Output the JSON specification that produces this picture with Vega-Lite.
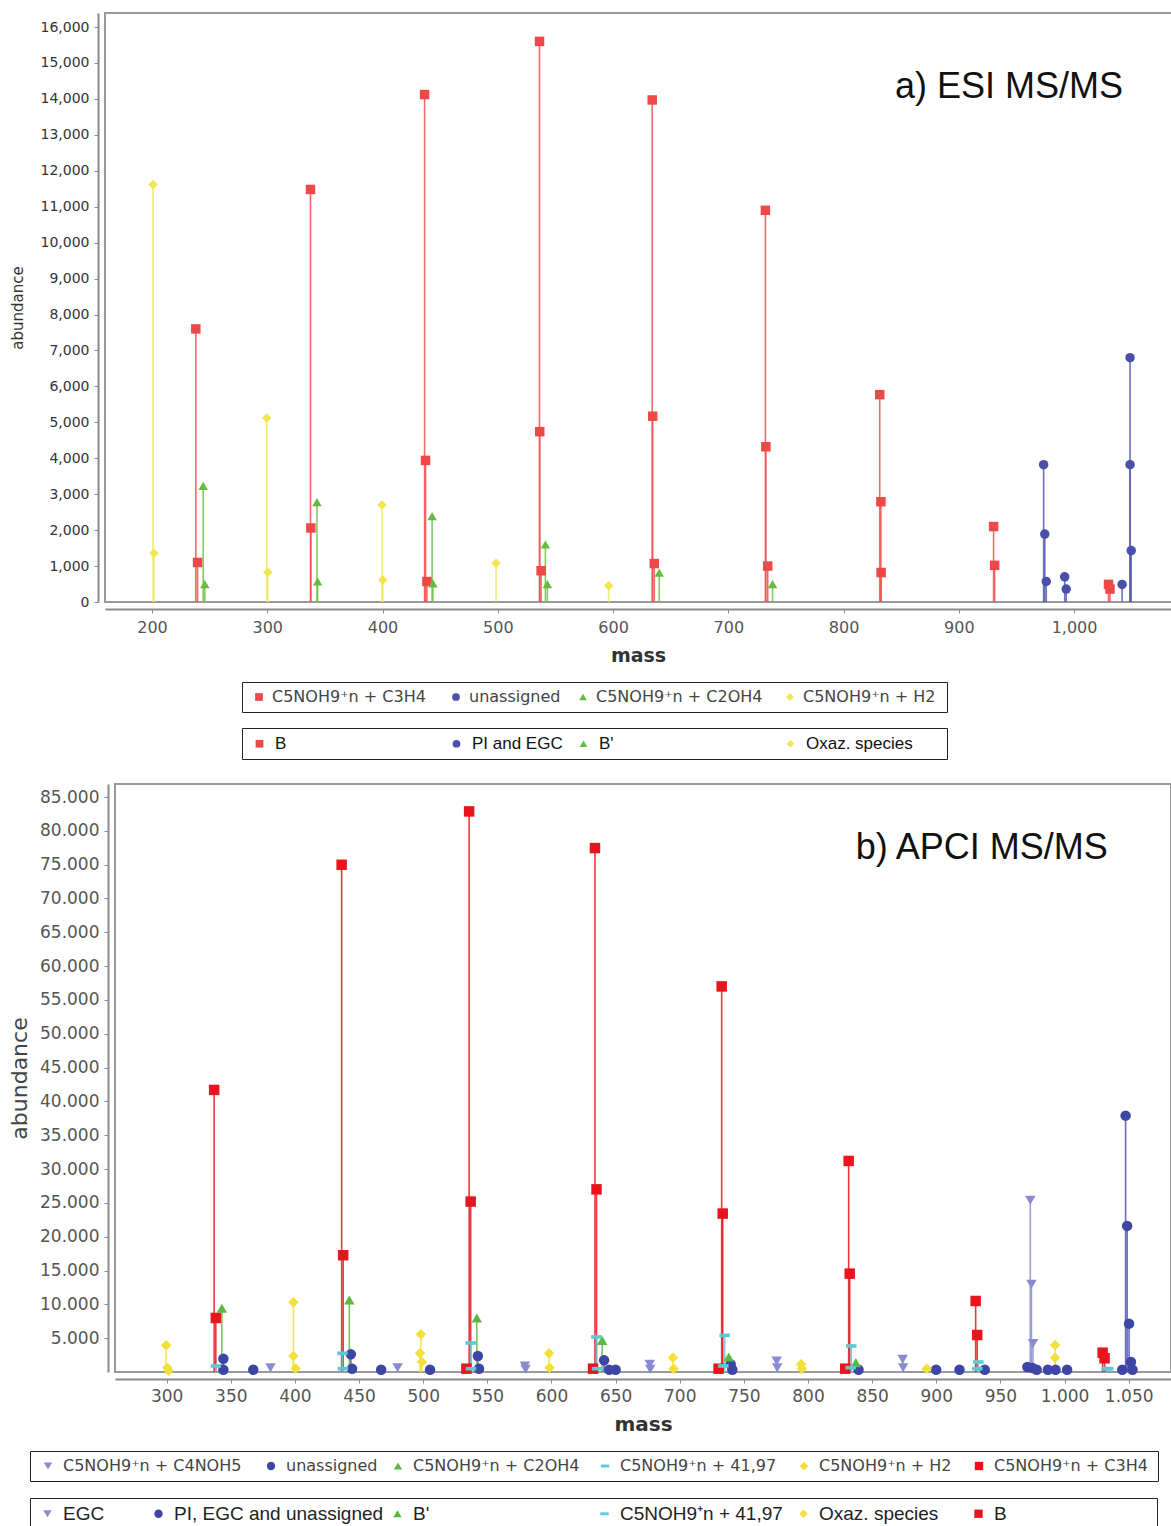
{
  "$schema": "https://vega.github.io/schema/vega-lite/v6.json",
  "background": "white",
  "padding": {"left": 7, "top": 12, "right": 0, "bottom": 0},
  "config": {
    "view": {"stroke": "#9a9a9a", "strokeWidth": 2},
    "font": "Liberation Sans"
  },
  "datasets": {
    "top": [
      {"mass": 238.0, "abundance": 7600, "type": "C5NOH9⁺n + C3H4", "group": "B"},
      {"mass": 239.5, "abundance": 1100, "type": "C5NOH9⁺n + C3H4", "group": "B"},
      {"mass": 337.5, "abundance": 11480, "type": "C5NOH9⁺n + C3H4", "group": "B"},
      {"mass": 337.8, "abundance": 2060, "type": "C5NOH9⁺n + C3H4", "group": "B"},
      {"mass": 436.5, "abundance": 14120, "type": "C5NOH9⁺n + C3H4", "group": "B"},
      {"mass": 437.3, "abundance": 3940, "type": "C5NOH9⁺n + C3H4", "group": "B"},
      {"mass": 438.5, "abundance": 570, "type": "C5NOH9⁺n + C3H4", "group": "B"},
      {"mass": 536.2, "abundance": 15600, "type": "C5NOH9⁺n + C3H4", "group": "B"},
      {"mass": 536.4, "abundance": 4740, "type": "C5NOH9⁺n + C3H4", "group": "B"},
      {"mass": 537.6, "abundance": 870, "type": "C5NOH9⁺n + C3H4", "group": "B"},
      {"mass": 634.0, "abundance": 13970, "type": "C5NOH9⁺n + C3H4", "group": "B"},
      {"mass": 634.4, "abundance": 5170, "type": "C5NOH9⁺n + C3H4", "group": "B"},
      {"mass": 635.8, "abundance": 1070, "type": "C5NOH9⁺n + C3H4", "group": "B"},
      {"mass": 732.2, "abundance": 10900, "type": "C5NOH9⁺n + C3H4", "group": "B"},
      {"mass": 732.6, "abundance": 4320, "type": "C5NOH9⁺n + C3H4", "group": "B"},
      {"mass": 734.2, "abundance": 1000, "type": "C5NOH9⁺n + C3H4", "group": "B"},
      {"mass": 831.4, "abundance": 5770, "type": "C5NOH9⁺n + C3H4", "group": "B"},
      {"mass": 832.4, "abundance": 2790, "type": "C5NOH9⁺n + C3H4", "group": "B"},
      {"mass": 832.6, "abundance": 820, "type": "C5NOH9⁺n + C3H4", "group": "B"},
      {"mass": 930.2, "abundance": 2100, "type": "C5NOH9⁺n + C3H4", "group": "B"},
      {"mass": 931.1, "abundance": 1020, "type": "C5NOH9⁺n + C3H4", "group": "B"},
      {"mass": 1029.9, "abundance": 490, "type": "C5NOH9⁺n + C3H4", "group": "B"},
      {"mass": 1031.2, "abundance": 360, "type": "C5NOH9⁺n + C3H4", "group": "B"},
      {"mass": 973.6, "abundance": 3820, "type": "unassigned", "group": "PI and EGC"},
      {"mass": 974.6, "abundance": 1890, "type": "unassigned", "group": "PI and EGC"},
      {"mass": 975.9, "abundance": 570, "type": "unassigned", "group": "PI and EGC"},
      {"mass": 991.9, "abundance": 700, "type": "unassigned", "group": "PI and EGC"},
      {"mass": 993.2, "abundance": 360, "type": "unassigned", "group": "PI and EGC"},
      {"mass": 1041.7, "abundance": 490, "type": "unassigned", "group": "PI and EGC"},
      {"mass": 1048.6, "abundance": 6800, "type": "unassigned", "group": "PI and EGC"},
      {"mass": 1048.6, "abundance": 3820, "type": "unassigned", "group": "PI and EGC"},
      {"mass": 1049.6, "abundance": 1430, "type": "unassigned", "group": "PI and EGC"},
      {"mass": 244.4, "abundance": 3230, "type": "C5NOH9⁺n + C2OH4", "group": "B'"},
      {"mass": 245.8, "abundance": 500, "type": "C5NOH9⁺n + C2OH4", "group": "B'"},
      {"mass": 343.1, "abundance": 2780, "type": "C5NOH9⁺n + C2OH4", "group": "B'"},
      {"mass": 343.7, "abundance": 570, "type": "C5NOH9⁺n + C2OH4", "group": "B'"},
      {"mass": 443.0, "abundance": 2390, "type": "C5NOH9⁺n + C2OH4", "group": "B'"},
      {"mass": 443.7, "abundance": 520, "type": "C5NOH9⁺n + C2OH4", "group": "B'"},
      {"mass": 541.3, "abundance": 1600, "type": "C5NOH9⁺n + C2OH4", "group": "B'"},
      {"mass": 543.0, "abundance": 500, "type": "C5NOH9⁺n + C2OH4", "group": "B'"},
      {"mass": 640.1, "abundance": 820, "type": "C5NOH9⁺n + C2OH4", "group": "B'"},
      {"mass": 738.4, "abundance": 500, "type": "C5NOH9⁺n + C2OH4", "group": "B'"},
      {"mass": 200.9, "abundance": 11620, "type": "C5NOH9⁺n + H2", "group": "Oxaz. species"},
      {"mass": 201.6, "abundance": 1355, "type": "C5NOH9⁺n + H2", "group": "Oxaz. species"},
      {"mass": 299.6, "abundance": 5120, "type": "C5NOH9⁺n + H2", "group": "Oxaz. species"},
      {"mass": 300.5, "abundance": 830, "type": "C5NOH9⁺n + H2", "group": "Oxaz. species"},
      {"mass": 399.5, "abundance": 2700, "type": "C5NOH9⁺n + H2", "group": "Oxaz. species"},
      {"mass": 400.2, "abundance": 610, "type": "C5NOH9⁺n + H2", "group": "Oxaz. species"},
      {"mass": 498.5, "abundance": 1080, "type": "C5NOH9⁺n + H2", "group": "Oxaz. species"},
      {"mass": 596.2, "abundance": 450, "type": "C5NOH9⁺n + H2", "group": "Oxaz. species"}
    ],
    "bottom": [
      {"mass": 337.0, "abundance": 41700, "type": "C5NOH9⁺n + C3H4", "group": "B"},
      {"mass": 338.3, "abundance": 7990, "type": "C5NOH9⁺n + C3H4", "group": "B"},
      {"mass": 436.4, "abundance": 74980, "type": "C5NOH9⁺n + C3H4", "group": "B"},
      {"mass": 437.6, "abundance": 17260, "type": "C5NOH9⁺n + C3H4", "group": "B"},
      {"mass": 535.8, "abundance": 82870, "type": "C5NOH9⁺n + C3H4", "group": "B"},
      {"mass": 537.0, "abundance": 25190, "type": "C5NOH9⁺n + C3H4", "group": "B"},
      {"mass": 533.7, "abundance": 490, "type": "C5NOH9⁺n + C3H4", "group": "B"},
      {"mass": 633.9, "abundance": 77450, "type": "C5NOH9⁺n + C3H4", "group": "B"},
      {"mass": 635.1, "abundance": 27000, "type": "C5NOH9⁺n + C3H4", "group": "B"},
      {"mass": 632.4, "abundance": 490, "type": "C5NOH9⁺n + C3H4", "group": "B"},
      {"mass": 732.7, "abundance": 57000, "type": "C5NOH9⁺n + C3H4", "group": "B"},
      {"mass": 733.5, "abundance": 23420, "type": "C5NOH9⁺n + C3H4", "group": "B"},
      {"mass": 730.3, "abundance": 490, "type": "C5NOH9⁺n + C3H4", "group": "B"},
      {"mass": 831.7, "abundance": 31200, "type": "C5NOH9⁺n + C3H4", "group": "B"},
      {"mass": 832.5, "abundance": 14540, "type": "C5NOH9⁺n + C3H4", "group": "B"},
      {"mass": 829.0, "abundance": 490, "type": "C5NOH9⁺n + C3H4", "group": "B"},
      {"mass": 930.7, "abundance": 10500, "type": "C5NOH9⁺n + C3H4", "group": "B"},
      {"mass": 931.9, "abundance": 5470, "type": "C5NOH9⁺n + C3H4", "group": "B"},
      {"mass": 1029.7, "abundance": 2860, "type": "C5NOH9⁺n + C3H4", "group": "B"},
      {"mass": 1031.2, "abundance": 2030, "type": "C5NOH9⁺n + C3H4", "group": "B"},
      {"mass": 344.2, "abundance": 1970, "type": "unassigned", "group": "PI, EGC and unassigned"},
      {"mass": 344.2, "abundance": 340, "type": "unassigned", "group": "PI, EGC and unassigned"},
      {"mass": 367.5, "abundance": 340, "type": "unassigned", "group": "PI, EGC and unassigned"},
      {"mass": 443.6, "abundance": 2610, "type": "unassigned", "group": "PI, EGC and unassigned"},
      {"mass": 444.5, "abundance": 490, "type": "unassigned", "group": "PI, EGC and unassigned"},
      {"mass": 467.2, "abundance": 340, "type": "unassigned", "group": "PI, EGC and unassigned"},
      {"mass": 505.3, "abundance": 340, "type": "unassigned", "group": "PI, EGC and unassigned"},
      {"mass": 542.6, "abundance": 2370, "type": "unassigned", "group": "PI, EGC and unassigned"},
      {"mass": 543.5, "abundance": 490, "type": "unassigned", "group": "PI, EGC and unassigned"},
      {"mass": 641.0, "abundance": 1730, "type": "unassigned", "group": "PI, EGC and unassigned"},
      {"mass": 645.0, "abundance": 340, "type": "unassigned", "group": "PI, EGC and unassigned"},
      {"mass": 650.0, "abundance": 340, "type": "unassigned", "group": "PI, EGC and unassigned"},
      {"mass": 739.7, "abundance": 1140, "type": "unassigned", "group": "PI, EGC and unassigned"},
      {"mass": 741.0, "abundance": 340, "type": "unassigned", "group": "PI, EGC and unassigned"},
      {"mass": 839.4, "abundance": 340, "type": "unassigned", "group": "PI, EGC and unassigned"},
      {"mass": 899.9, "abundance": 340, "type": "unassigned", "group": "PI, EGC and unassigned"},
      {"mass": 918.1, "abundance": 340, "type": "unassigned", "group": "PI, EGC and unassigned"},
      {"mass": 937.8, "abundance": 340, "type": "unassigned", "group": "PI, EGC and unassigned"},
      {"mass": 971.0, "abundance": 740, "type": "unassigned", "group": "PI, EGC and unassigned"},
      {"mass": 975.0, "abundance": 600, "type": "unassigned", "group": "PI, EGC and unassigned"},
      {"mass": 978.3, "abundance": 340, "type": "unassigned", "group": "PI, EGC and unassigned"},
      {"mass": 987.0, "abundance": 340, "type": "unassigned", "group": "PI, EGC and unassigned"},
      {"mass": 993.0, "abundance": 340, "type": "unassigned", "group": "PI, EGC and unassigned"},
      {"mass": 1002.0, "abundance": 340, "type": "unassigned", "group": "PI, EGC and unassigned"},
      {"mass": 1045.0, "abundance": 340, "type": "unassigned", "group": "PI, EGC and unassigned"},
      {"mass": 1047.6, "abundance": 37900, "type": "unassigned", "group": "PI, EGC and unassigned"},
      {"mass": 1048.8, "abundance": 21600, "type": "unassigned", "group": "PI, EGC and unassigned"},
      {"mass": 1050.3, "abundance": 7150, "type": "unassigned", "group": "PI, EGC and unassigned"},
      {"mass": 1051.8, "abundance": 1480, "type": "unassigned", "group": "PI, EGC and unassigned"},
      {"mass": 1053.0, "abundance": 340, "type": "unassigned", "group": "PI, EGC and unassigned"},
      {"mass": 343.0, "abundance": 9420, "type": "C5NOH9⁺n + C2OH4", "group": "B'"},
      {"mass": 442.4, "abundance": 10650, "type": "C5NOH9⁺n + C2OH4", "group": "B'"},
      {"mass": 541.8, "abundance": 7990, "type": "C5NOH9⁺n + C2OH4", "group": "B'"},
      {"mass": 639.5, "abundance": 4680, "type": "C5NOH9⁺n + C2OH4", "group": "B'"},
      {"mass": 738.2, "abundance": 2220, "type": "C5NOH9⁺n + C2OH4", "group": "B'"},
      {"mass": 837.3, "abundance": 1380, "type": "C5NOH9⁺n + C2OH4", "group": "B'"},
      {"mass": 338.3, "abundance": 890, "type": "C5NOH9⁺n + 41,97", "group": "C5NOH9⁺n + 41,97"},
      {"mass": 437.0, "abundance": 2760, "type": "C5NOH9⁺n + 41,97", "group": "C5NOH9⁺n + 41,97"},
      {"mass": 437.4, "abundance": 490, "type": "C5NOH9⁺n + 41,97", "group": "C5NOH9⁺n + 41,97"},
      {"mass": 537.0, "abundance": 4290, "type": "C5NOH9⁺n + 41,97", "group": "C5NOH9⁺n + 41,97"},
      {"mass": 537.2, "abundance": 490, "type": "C5NOH9⁺n + 41,97", "group": "C5NOH9⁺n + 41,97"},
      {"mass": 635.0, "abundance": 5180, "type": "C5NOH9⁺n + 41,97", "group": "C5NOH9⁺n + 41,97"},
      {"mass": 635.5, "abundance": 490, "type": "C5NOH9⁺n + 41,97", "group": "C5NOH9⁺n + 41,97"},
      {"mass": 735.0, "abundance": 5420, "type": "C5NOH9⁺n + 41,97", "group": "C5NOH9⁺n + 41,97"},
      {"mass": 734.0, "abundance": 890, "type": "C5NOH9⁺n + 41,97", "group": "C5NOH9⁺n + 41,97"},
      {"mass": 833.7, "abundance": 3850, "type": "C5NOH9⁺n + 41,97", "group": "C5NOH9⁺n + 41,97"},
      {"mass": 833.2, "abundance": 640, "type": "C5NOH9⁺n + 41,97", "group": "C5NOH9⁺n + 41,97"},
      {"mass": 932.8, "abundance": 1480, "type": "C5NOH9⁺n + 41,97", "group": "C5NOH9⁺n + 41,97"},
      {"mass": 932.0, "abundance": 490, "type": "C5NOH9⁺n + 41,97", "group": "C5NOH9⁺n + 41,97"},
      {"mass": 1032.7, "abundance": 490, "type": "C5NOH9⁺n + 41,97", "group": "C5NOH9⁺n + 41,97"},
      {"mass": 1034.0, "abundance": 490, "type": "C5NOH9⁺n + 41,97", "group": "C5NOH9⁺n + 41,97"},
      {"mass": 299.5, "abundance": 3950, "type": "C5NOH9⁺n + H2", "group": "Oxaz. species"},
      {"mass": 300.5, "abundance": 640, "type": "C5NOH9⁺n + H2", "group": "Oxaz. species"},
      {"mass": 301.5, "abundance": 200, "type": "C5NOH9⁺n + H2", "group": "Oxaz. species"},
      {"mass": 398.8, "abundance": 10300, "type": "C5NOH9⁺n + H2", "group": "Oxaz. species"},
      {"mass": 398.8, "abundance": 2370, "type": "C5NOH9⁺n + H2", "group": "Oxaz. species"},
      {"mass": 400.5, "abundance": 500, "type": "C5NOH9⁺n + H2", "group": "Oxaz. species"},
      {"mass": 498.2, "abundance": 5570, "type": "C5NOH9⁺n + H2", "group": "Oxaz. species"},
      {"mass": 497.5, "abundance": 2760, "type": "C5NOH9⁺n + H2", "group": "Oxaz. species"},
      {"mass": 499.0, "abundance": 1480, "type": "C5NOH9⁺n + H2", "group": "Oxaz. species"},
      {"mass": 598.1, "abundance": 2760, "type": "C5NOH9⁺n + H2", "group": "Oxaz. species"},
      {"mass": 598.5, "abundance": 640, "type": "C5NOH9⁺n + H2", "group": "Oxaz. species"},
      {"mass": 694.7, "abundance": 2120, "type": "C5NOH9⁺n + H2", "group": "Oxaz. species"},
      {"mass": 695.2, "abundance": 490, "type": "C5NOH9⁺n + H2", "group": "Oxaz. species"},
      {"mass": 794.7, "abundance": 1140, "type": "C5NOH9⁺n + H2", "group": "Oxaz. species"},
      {"mass": 795.2, "abundance": 490, "type": "C5NOH9⁺n + H2", "group": "Oxaz. species"},
      {"mass": 892.5, "abundance": 490, "type": "C5NOH9⁺n + H2", "group": "Oxaz. species"},
      {"mass": 992.6, "abundance": 3990, "type": "C5NOH9⁺n + H2", "group": "Oxaz. species"},
      {"mass": 992.6, "abundance": 2120, "type": "C5NOH9⁺n + H2", "group": "Oxaz. species"},
      {"mass": 380.9, "abundance": 640, "type": "C5NOH9⁺n + C4NOH5", "group": "EGC"},
      {"mass": 480.0, "abundance": 640, "type": "C5NOH9⁺n + C4NOH5", "group": "EGC"},
      {"mass": 579.3, "abundance": 890, "type": "C5NOH9⁺n + C4NOH5", "group": "EGC"},
      {"mass": 579.8, "abundance": 400, "type": "C5NOH9⁺n + C4NOH5", "group": "EGC"},
      {"mass": 676.6, "abundance": 1140, "type": "C5NOH9⁺n + C4NOH5", "group": "EGC"},
      {"mass": 677.0, "abundance": 400, "type": "C5NOH9⁺n + C4NOH5", "group": "EGC"},
      {"mass": 775.6, "abundance": 1630, "type": "C5NOH9⁺n + C4NOH5", "group": "EGC"},
      {"mass": 776.0, "abundance": 640, "type": "C5NOH9⁺n + C4NOH5", "group": "EGC"},
      {"mass": 873.8, "abundance": 1870, "type": "C5NOH9⁺n + C4NOH5", "group": "EGC"},
      {"mass": 874.2, "abundance": 640, "type": "C5NOH9⁺n + C4NOH5", "group": "EGC"},
      {"mass": 973.3, "abundance": 25390, "type": "C5NOH9⁺n + C4NOH5", "group": "EGC"},
      {"mass": 974.2, "abundance": 12970, "type": "C5NOH9⁺n + C4NOH5", "group": "EGC"},
      {"mass": 975.4, "abundance": 4190, "type": "C5NOH9⁺n + C4NOH5", "group": "EGC"}
    ]
  },
  "vconcat": [
    {
      "width": 1076,
      "height": 589,
      "data": {"name": "top"},
      "layer": [
        {
          "mark": {"type": "rule", "strokeWidth": 1.6, "opacity": 0.85},
          "encoding": {
            "x": {
              "field": "mass", "type": "quantitative",
              "scale": {"domain": [159.2, 1092.8], "nice": false, "zero": false},
              "axis": {
                "values": [200, 300, 400, 500, 600, 700, 800, 900, 1000], "format": ",d", "tickCount": 40,
                "title": "mass", "offset": 7, "grid": false, "labelOverlap": false,
                "domainColor": "#8a8a8a", "domainWidth": 2, "tickColor": "#8a8a8a", "tickSize": 4,
                "labelFont": "DejaVu Sans", "labelFontSize": 16, "labelColor": "#555", "labelPadding": 6,
                "titleFont": "DejaVu Sans", "titleFontSize": 19, "titleFontWeight": "bold", "titleColor": "#333", "titlePadding": 11,
                "titleX": 533
              }
            },
            "y": {
              "field": "abundance", "type": "quantitative",
              "scale": {"domain": [0, 16390], "nice": false},
              "axis": {
                "values": [0, 1000, 2000, 3000, 4000, 5000, 6000, 7000, 8000, 9000, 10000, 11000, 12000, 13000, 14000, 15000, 16000],
                "format": ",d", "tickCount": 40, "title": "abundance", "offset": 7, "grid": false, "labelOverlap": false,
                "domainColor": "#8a8a8a", "domainWidth": 2, "tickColor": "#8a8a8a", "tickSize": 4,
                "labelFont": "DejaVu Sans", "labelFontSize": 14, "labelColor": "#333", "labelPadding": 5,
                "titleFont": "DejaVu Sans", "titleFontSize": 15, "titleFontWeight": "normal", "titleColor": "#333", "titlePadding": 15
              }
            },
            "y2": {"datum": 0},
            "stroke": {
              "field": "type", "type": "nominal",
              "scale": {
                "domain": ["C5NOH9⁺n + C3H4", "unassigned", "C5NOH9⁺n + C2OH4", "C5NOH9⁺n + H2"],
                "range": ["#f05050", "#5359ad", "#6fbf4a", "#efe65a"]
              },
              "legend": null
            }
          }
        },
        {
          "mark": {"type": "point", "filled": true, "opacity": 1, "size": 90},
          "encoding": {
            "x": {"field": "mass", "type": "quantitative"},
            "y": {"field": "abundance", "type": "quantitative"},
            "color": {
              "field": "type", "type": "nominal",
              "scale": {
                "domain": ["C5NOH9⁺n + C3H4", "unassigned", "C5NOH9⁺n + C2OH4", "C5NOH9⁺n + H2"],
                "range": ["#ee4848", "#4a50a8", "#66bb40", "#efe650"]
              },
              "legend": {
                "title": null, "orient": "none", "legendX": 137, "legendY": 669, "direction": "horizontal",
                "strokeColor": "#222", "fillColor": "white", "padding": 7, "columnPadding": 0,
                "symbolSize": 60, "symbolOffset": 2, "labelOffset": 5, "labelLimit": 400, "symbolOpacity": 1,
                "labelFont": "DejaVu Sans", "labelFontSize": 16, "labelColor": "#444",
                "encode": {"entries": {"update": {"noBound": {"value": false}, "width": {"signal": "[197,127,207,160][datum.index]"}}}}
              }
            },
            "shape": {
              "field": "type", "type": "nominal",
              "scale": {
                "domain": ["C5NOH9⁺n + C3H4", "unassigned", "C5NOH9⁺n + C2OH4", "C5NOH9⁺n + H2"],
                "range": ["square", "circle", "triangle-up", "diamond"]
              },
              "legend": {
                "title": null, "orient": "none", "legendX": 137, "legendY": 669, "direction": "horizontal",
                "strokeColor": "#222", "fillColor": "white", "padding": 7, "columnPadding": 0,
                "symbolSize": 60, "symbolOffset": 2, "labelOffset": 5, "labelLimit": 400, "symbolOpacity": 1,
                "labelFont": "DejaVu Sans", "labelFontSize": 16, "labelColor": "#444",
                "encode": {"entries": {"update": {"noBound": {"value": false}, "width": {"signal": "[197,127,207,160][datum.index]"}}}}
              }
            }
          }
        },
        {
          "mark": {"type": "point", "filled": true, "opacity": 0, "size": 90},
          "encoding": {
            "x": {"field": "mass", "type": "quantitative"},
            "y": {"field": "abundance", "type": "quantitative"},
            "color": {
              "field": "group", "type": "nominal",
              "scale": {
                "domain": ["B", "PI and EGC", "B'", "Oxaz. species"],
                "range": ["#ee4848", "#4a50a8", "#66bb40", "#efe650"]
              },
              "legend": {
                "title": null, "orient": "none", "legendX": 137, "legendY": 715, "direction": "horizontal",
                "strokeColor": "#222", "fillColor": "white", "padding": 7, "columnPadding": 0,
                "symbolSize": 60, "symbolOffset": 2, "labelOffset": 7, "labelLimit": 400, "symbolOpacity": 1,
                "labelFont": "Liberation Sans", "labelFontSize": 17, "labelColor": "#111",
                "encode": {"entries": {"update": {"noBound": {"value": false}, "width": {"signal": "[197,127,207,160][datum.index]"}}}}
              }
            },
            "shape": {
              "field": "group", "type": "nominal",
              "scale": {
                "domain": ["B", "PI and EGC", "B'", "Oxaz. species"],
                "range": ["square", "circle", "triangle-up", "diamond"]
              },
              "legend": {
                "title": null, "orient": "none", "legendX": 137, "legendY": 715, "direction": "horizontal",
                "strokeColor": "#222", "fillColor": "white", "padding": 7, "columnPadding": 0,
                "symbolSize": 60, "symbolOffset": 2, "labelOffset": 7, "labelLimit": 400, "symbolOpacity": 1,
                "labelFont": "Liberation Sans", "labelFontSize": 17, "labelColor": "#111",
                "encode": {"entries": {"update": {"noBound": {"value": false}, "width": {"signal": "[197,127,207,160][datum.index]"}}}}
              }
            }
          }
        },
        {
          "data": {"values": [{}]},
          "mark": {"type": "text", "fontSize": 36, "font": "Liberation Sans", "color": "#111", "align": "center", "baseline": "middle"},
          "encoding": {
            "x": {"datum": 943.6, "type": "quantitative"},
            "y": {"datum": 14330, "type": "quantitative"},
            "text": {"value": "a) ESI MS/MS"}
          }
        }
      ],
      "resolve": {"scale": {"color": "independent", "shape": "independent"}}
    },
    {
      "width": 1056,
      "height": 588,
      "data": {"name": "bottom"},
      "layer": [
        {
          "mark": {"type": "rule", "strokeWidth": 1.6, "opacity": 0.85},
          "encoding": {
            "x": {
              "field": "mass", "type": "quantitative",
              "scale": {"domain": [259.7, 1083.0], "nice": false, "zero": false},
              "axis": {
                "values": [300, 350, 400, 450, 500, 550, 600, 650, 700, 750, 800, 850, 900, 950, 1000, 1050], "tickCount": 40,
                "labelExpr": "replace(format(datum.value, ','), ',', '.')",
                "title": "mass", "offset": 7, "grid": false, "labelOverlap": false,
                "domainColor": "#8a8a8a", "domainWidth": 2, "tickColor": "#8a8a8a", "tickSize": 4,
                "labelFont": "DejaVu Sans", "labelFontSize": 17, "labelColor": "#555", "labelPadding": 5,
                "titleFont": "DejaVu Sans", "titleFontSize": 20, "titleFontWeight": "bold", "titleColor": "#333", "titlePadding": 10
              }
            },
            "y": {
              "field": "abundance", "type": "quantitative",
              "scale": {"domain": [0, 86923], "nice": false},
              "axis": {
                "values": [5000, 10000, 15000, 20000, 25000, 30000, 35000, 40000, 45000, 50000, 55000, 60000, 65000, 70000, 75000, 80000, 85000], "tickCount": 40,
                "labelExpr": "replace(format(datum.value, ','), ',', '.')",
                "title": "abundance", "offset": 7, "grid": false, "labelOverlap": false,
                "domainColor": "#8a8a8a", "domainWidth": 2, "tickColor": "#8a8a8a", "tickSize": 4,
                "labelFont": "DejaVu Sans", "labelFontSize": 17, "labelColor": "#555", "labelPadding": 5,
                "titleFont": "DejaVu Sans", "titleFontSize": 22, "titleFontWeight": "normal", "titleColor": "#444", "titlePadding": 8
              }
            },
            "y2": {"datum": 0},
            "stroke": {
              "field": "type", "type": "nominal",
              "scale": {
                "domain": ["C5NOH9⁺n + C4NOH5", "unassigned", "C5NOH9⁺n + C2OH4", "C5NOH9⁺n + 41,97", "C5NOH9⁺n + H2", "C5NOH9⁺n + C3H4"],
                "range": ["#8e8ed2", "#4a52ad", "#62ba45", "#5ccad6", "#efe23c", "#e8141e"]
              },
              "legend": null
            }
          }
        },
        {
          "mark": {"type": "point", "filled": true, "opacity": 1, "size": 110},
          "encoding": {
            "x": {"field": "mass", "type": "quantitative"},
            "y": {"field": "abundance", "type": "quantitative"},
            "color": {
              "field": "type", "type": "nominal",
              "scale": {
                "domain": ["C5NOH9⁺n + C4NOH5", "unassigned", "C5NOH9⁺n + C2OH4", "C5NOH9⁺n + 41,97", "C5NOH9⁺n + H2", "C5NOH9⁺n + C3H4"],
                "range": ["#8a8ad0", "#3d45a5", "#5cb843", "#5ccad6", "#f0e038", "#e8141e"]
              },
              "legend": {
                "title": null, "orient": "none", "legendX": -85, "legendY": 667, "direction": "horizontal",
                "strokeColor": "#222", "fillColor": "white", "padding": 7, "columnPadding": 0,
                "symbolSize": 70, "symbolOffset": 3, "labelOffset": 7, "labelLimit": 400, "symbolOpacity": 1,
                "labelFont": "DejaVu Sans", "labelFontSize": 16, "labelColor": "#444",
                "encode": {"entries": {"update": {"noBound": {"value": false}, "width": {"signal": "[223,127,207,199,175,183][datum.index]"}}}}
              }
            },
            "shape": {
              "field": "type", "type": "nominal",
              "scale": {
                "domain": ["C5NOH9⁺n + C4NOH5", "unassigned", "C5NOH9⁺n + C2OH4", "C5NOH9⁺n + 41,97", "C5NOH9⁺n + H2", "C5NOH9⁺n + C3H4"],
                "range": ["triangle-down", "circle", "triangle-up", "M-1,-0.35L1,-0.35L1,0.35L-1,0.35Z", "diamond", "square"]
              },
              "legend": {
                "title": null, "orient": "none", "legendX": -85, "legendY": 667, "direction": "horizontal",
                "strokeColor": "#222", "fillColor": "white", "padding": 7, "columnPadding": 0,
                "symbolSize": 70, "symbolOffset": 3, "labelOffset": 7, "labelLimit": 400, "symbolOpacity": 1,
                "labelFont": "DejaVu Sans", "labelFontSize": 16, "labelColor": "#444",
                "encode": {"entries": {"update": {"noBound": {"value": false}, "width": {"signal": "[223,127,207,199,175,183][datum.index]"}}}}
              }
            }
          }
        },
        {
          "mark": {"type": "point", "filled": true, "opacity": 0, "size": 110},
          "encoding": {
            "x": {"field": "mass", "type": "quantitative"},
            "y": {"field": "abundance", "type": "quantitative"},
            "color": {
              "field": "group", "type": "nominal",
              "scale": {
                "domain": ["EGC", "PI, EGC and unassigned", "B'", "C5NOH9⁺n + 41,97", "Oxaz. species", "B"],
                "range": ["#8a8ad0", "#3d45a5", "#5cb843", "#5ccad6", "#f0e038", "#e8141e"]
              },
              "legend": {
                "title": null, "orient": "none", "legendX": -85, "legendY": 714, "direction": "horizontal",
                "strokeColor": "#222", "fillColor": "white", "padding": 6, "columnPadding": 0,
                "symbolSize": 70, "symbolOffset": 2, "labelOffset": 6, "labelLimit": 400, "symbolOpacity": 1,
                "labelFont": "Liberation Sans", "labelFontSize": 19, "labelColor": "#222",
                "encode": {"entries": {"update": {"noBound": {"value": false}, "width": {"signal": "[111,239,207,199,175,184][datum.index]"}}}}
              }
            },
            "shape": {
              "field": "group", "type": "nominal",
              "scale": {
                "domain": ["EGC", "PI, EGC and unassigned", "B'", "C5NOH9⁺n + 41,97", "Oxaz. species", "B"],
                "range": ["triangle-down", "circle", "triangle-up", "M-1,-0.35L1,-0.35L1,0.35L-1,0.35Z", "diamond", "square"]
              },
              "legend": {
                "title": null, "orient": "none", "legendX": -85, "legendY": 714, "direction": "horizontal",
                "strokeColor": "#222", "fillColor": "white", "padding": 6, "columnPadding": 0,
                "symbolSize": 70, "symbolOffset": 2, "labelOffset": 6, "labelLimit": 400, "symbolOpacity": 1,
                "labelFont": "Liberation Sans", "labelFontSize": 19, "labelColor": "#222",
                "encode": {"entries": {"update": {"noBound": {"value": false}, "width": {"signal": "[111,239,207,199,175,184][datum.index]"}}}}
              }
            }
          }
        },
        {
          "data": {"values": [{}]},
          "mark": {"type": "text", "fontSize": 36, "font": "Liberation Sans", "color": "#111", "align": "center", "baseline": "middle"},
          "encoding": {
            "x": {"datum": 935.4, "type": "quantitative"},
            "y": {"datum": 77500, "type": "quantitative"},
            "text": {"value": "b) APCI MS/MS"}
          }
        }
      ],
      "resolve": {"scale": {"color": "independent", "shape": "independent"}}
    }
  ],
  "spacing": 22,
  "center": true,
  "resolve": {"scale": {"x": "independent", "y": "independent", "color": "independent", "shape": "independent", "stroke": "independent"}}
}
